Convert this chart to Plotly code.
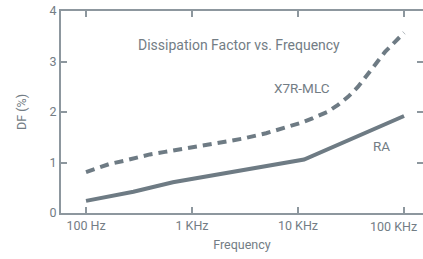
import plotly.graph_objects as go

# Data
x7r_freq = [100, 126, 166, 225, 300, 400, 555, 770, 1000, 1550, 2960, 5000, 7530, 10450,
            13870, 18800, 23850, 29640, 36840, 44770, 55640, 66190, 82200, 100000]
x7r_df = [0.81, 0.89, 0.97, 1.03, 1.10, 1.16, 1.21, 1.26, 1.30, 1.37, 1.47, 1.58, 1.68, 1.78,
          1.88, 2.00, 2.14, 2.30, 2.50, 2.73, 2.97, 3.19, 3.39, 3.57]

ra_freq = [100, 135, 280, 660, 1550, 11400, 100000]
ra_df = [0.24, 0.29, 0.42, 0.61, 0.74, 1.06, 1.92]

tick_vals = [100, 1000, 10000, 100000]
tick_text = ["100 Hz", "1 KHz", "10 KHz", ""]
last_tick_label = "100 KHz"
y_ticks = [0, 1, 2, 3, 4]

line_color = "#6e7b84"
text_color = "#737d85"
axis_color = "#8d979e"
font_family = "Roboto, sans-serif"

fig = go.Figure()
fig.add_trace(go.Scatter(x=x7r_freq, y=x7r_df, mode="lines",
                         line=dict(color=line_color, width=4, dash="9px,6px"),
                         showlegend=False, hoverinfo="skip"))
fig.add_trace(go.Scatter(x=ra_freq, y=ra_df, mode="lines",
                         line=dict(color=line_color, width=4),
                         showlegend=False, hoverinfo="skip"))
# dummy trace so the right-side tick axis renders
fig.add_trace(go.Scatter(x=[None], y=[None], yaxis="y2", showlegend=False, hoverinfo="skip"))

fig.update_layout(
    width=423, height=259,
    margin=dict(l=61, r=0, t=11, b=46, autoexpand=False),
    paper_bgcolor="white", plot_bgcolor="white",
    font=dict(family=font_family, size=12, color=text_color),
    xaxis=dict(type="log", range=[1.764, 5.179], automargin=False,
               tickvals=tick_vals, ticktext=tick_text,
               ticks="inside", ticklen=6, tickwidth=1.5, tickcolor=axis_color,
               showline=True, linecolor=axis_color, linewidth=2, mirror="ticks",
               showgrid=False, zeroline=False,
               tickfont=dict(size=12.5, color=text_color),
               title=dict(text="Frequency", font=dict(size=12.5, color=text_color), standoff=8)),
    yaxis=dict(range=[0, 4], tickvals=y_ticks, automargin=False,
               ticks="inside", ticklen=6, tickwidth=1.5, tickcolor=axis_color,
               showline=True, linecolor=axis_color, linewidth=2,
               showgrid=False, zeroline=False,
               tickfont=dict(size=12.5, color=text_color),
               title=dict(text="DF (%)", font=dict(size=12.5, color=text_color), standoff=20)),
    yaxis2=dict(range=[0, 4], tickvals=y_ticks, overlaying="y", side="right", automargin=False,
                ticks="inside", ticklen=6, tickwidth=1.5, tickcolor=axis_color,
                showline=False, showticklabels=False, showgrid=False, zeroline=False),
    annotations=[
        dict(text="Dissipation Factor vs. Frequency", x=3.439, y=3.32, xref="x", yref="y",
             showarrow=False, font=dict(size=14, color=text_color)),
        dict(text="X7R-MLC", x=4.042, y=2.48, xref="x", yref="y",
             showarrow=False, font=dict(size=13.5, color=text_color)),
        dict(text="RA", x=4.783, y=1.32, xref="x", yref="y",
             showarrow=False, font=dict(size=13.5, color=text_color)),
        dict(text=last_tick_label, x=4.896, y=0, xref="x", yref="paper",
             yanchor="top", yshift=-4, showarrow=False,
             font=dict(size=12.5, color=text_color)),
    ],
)

fig.write_html("out.html", config={"displayModeBar": False},
               post_script="document.body.style.margin='0';document.body.style.padding='0';")
